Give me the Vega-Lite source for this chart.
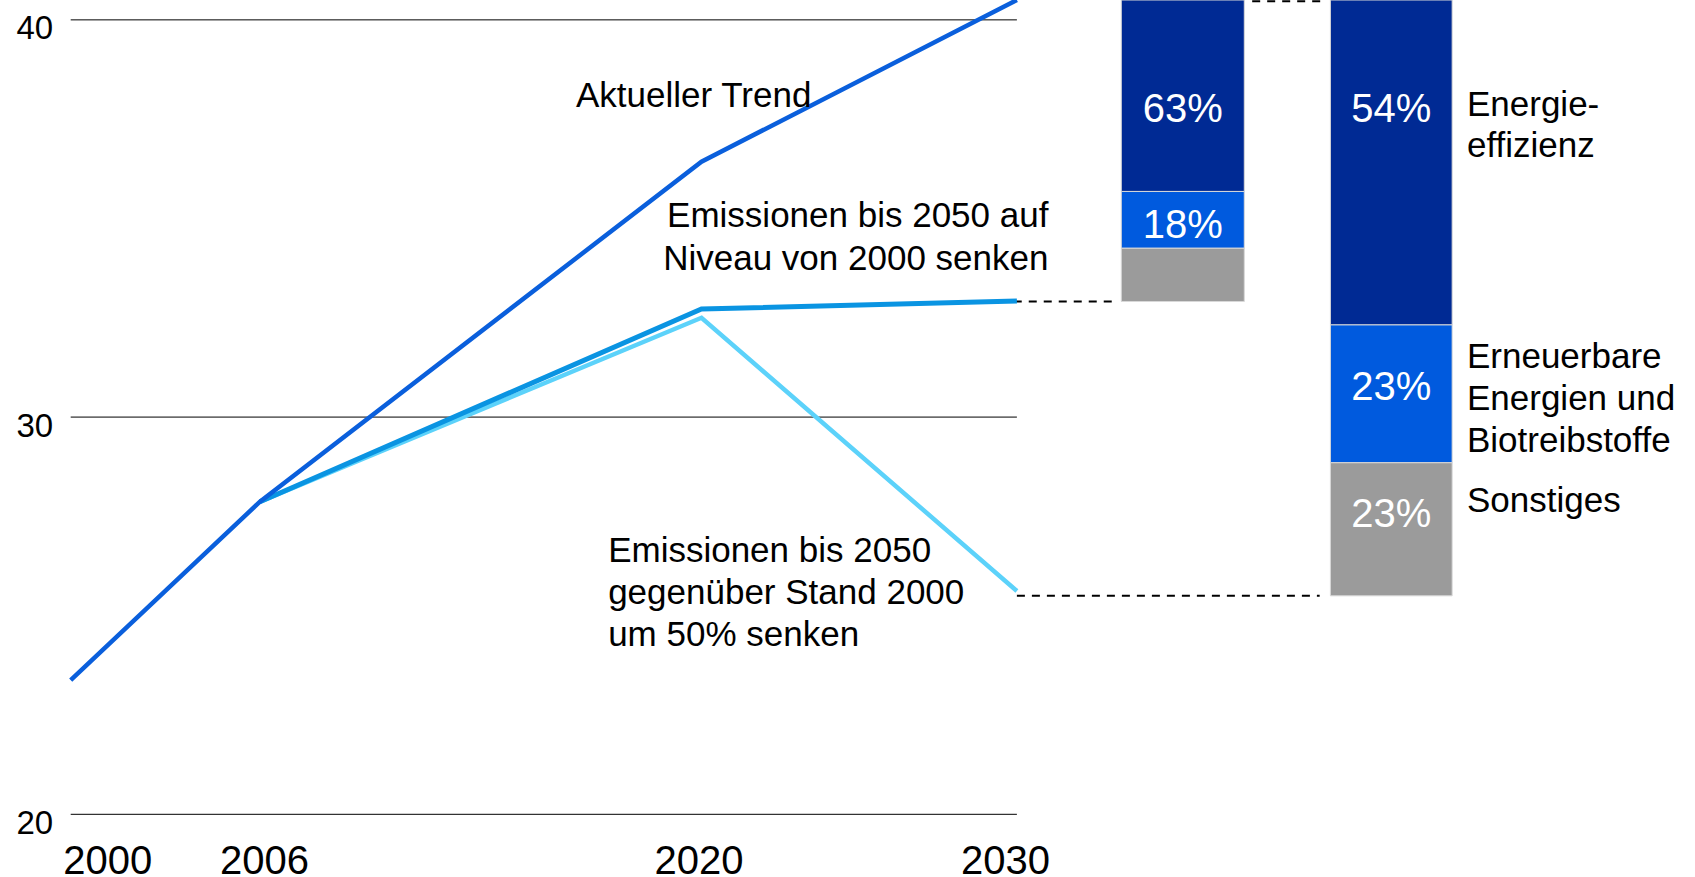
{
  "$schema": "https://vega.github.io/schema/vega-lite/v6.json",
  "width": 1624.3,
  "height": 814.3,
  "autosize": {"type": "none"},
  "padding": {"left": 70.7, "top": 0, "right": 0, "bottom": 62.7},
  "config": {
    "view": {"stroke": null},
    "font": "Liberation Sans",
    "text": {"font": "Liberation Sans"},
    "axisX": {
      "grid": false, "domain": false, "ticks": false, "tickSize": 0,
      "labelPadding": 59, "labelFontSize": 40, "labelColor": "#000000", "labelFont": "Liberation Sans",
      "labelBaseline": "alphabetic", "labelFlush": false, "labelOverlap": false, "title": null
    },
    "axisY": {
      "grid": false, "domain": false, "ticks": false, "tickSize": 0,
      "labelPadding": 18, "labelFontSize": 33, "labelColor": "#000000", "labelFont": "Liberation Sans",
      "labelBaseline": "alphabetic", "labelOverlap": false, "title": null
    }
  },
  "datasets": {
    "grid": [{"v": 20}, {"v": 30}, {"v": 40}],
    "lines": [
      {"series": "Aktueller Trend", "year": 2000, "v": 23.38},
      {"series": "Aktueller Trend", "year": 2006, "v": 27.87},
      {"series": "Aktueller Trend", "year": 2020, "v": 36.43},
      {"series": "Aktueller Trend", "year": 2030, "v": 40.5},
      {"series": "Niveau 2000", "year": 2006, "v": 27.87},
      {"series": "Niveau 2000", "year": 2020, "v": 32.72},
      {"series": "Niveau 2000", "year": 2030, "v": 32.92},
      {"series": "Minus 50%", "year": 2006, "v": 27.87},
      {"series": "Minus 50%", "year": 2020, "v": 32.5},
      {"series": "Minus 50%", "year": 2030, "v": 25.62}
    ],
    "bars": [
      {"bar": "A", "part": "Energieeffizienz", "start": 2033.31, "end": 2037.21, "lo": 35.68, "hi": 40.5},
      {"bar": "A", "part": "Erneuerbare", "start": 2033.31, "end": 2037.21, "lo": 34.25, "hi": 35.68},
      {"bar": "A", "part": "Sonstiges", "start": 2033.31, "end": 2037.21, "lo": 32.91, "hi": 34.25},
      {"bar": "B", "part": "Energieeffizienz", "start": 2039.94, "end": 2043.8, "lo": 32.32, "hi": 40.5},
      {"bar": "B", "part": "Erneuerbare", "start": 2039.94, "end": 2043.8, "lo": 28.85, "hi": 32.32},
      {"bar": "B", "part": "Sonstiges", "start": 2039.94, "end": 2043.8, "lo": 25.5, "hi": 28.85}
    ],
    "connectors": [
      {"from": 2029.9, "to": 2033.05, "level": 32.91},
      {"from": 2030.0, "to": 2039.6, "level": 25.5},
      {"from": 2037.46, "to": 2039.68, "level": 40.47}
    ],
    "pct": [
      {"x": 2035.26, "y": 37.44, "t": "63%"},
      {"x": 2041.87, "y": 37.44, "t": "54%"},
      {"x": 2035.26, "y": 34.51, "t": "18%"},
      {"x": 2041.87, "y": 30.43, "t": "23%"},
      {"x": 2041.87, "y": 27.23, "t": "23%"}
    ],
    "notesLeft": [
      {"x": 2016.02, "y": 37.81, "t": "Aktueller Trend"},
      {"x": 2017.04, "y": 26.36, "t": "Emissionen bis 2050"},
      {"x": 2017.04, "y": 25.29, "t": "gegenüber Stand 2000"},
      {"x": 2017.04, "y": 24.24, "t": "um 50% senken"},
      {"x": 2044.27, "y": 37.58, "t": "Energie-"},
      {"x": 2044.27, "y": 36.55, "t": "effizienz"},
      {"x": 2044.27, "y": 31.23, "t": "Erneuerbare"},
      {"x": 2044.27, "y": 30.18, "t": "Energien und"},
      {"x": 2044.27, "y": 29.13, "t": "Biotreibstoffe"},
      {"x": 2044.27, "y": 27.62, "t": "Sonstiges"}
    ],
    "notesRight": [
      {"x": 2031.0, "y": 34.79, "t": "Emissionen bis 2050 auf"},
      {"x": 2031.0, "y": 33.70, "t": "Niveau von 2000 senken"}
    ]
  },
  "encoding": {
    "x": {
      "type": "quantitative", "scale": {"domain": [2000, 2051.5]},
      "axis": {
        "values": [2000, 2006, 2020, 2030], "format": "d", "title": null,
        "labelAlign": {"condition": {"test": "datum.value == 2000", "value": "left"}, "value": "center"},
        "labelOffset": {"condition": [
          {"test": "datum.value == 2000", "value": -8},
          {"test": "datum.value == 2006", "value": 4},
          {"test": "datum.value == 2020", "value": -3},
          {"test": "datum.value == 2030", "value": -12}
        ], "value": 0}
      }
    },
    "y": {
      "type": "quantitative", "scale": {"domain": [20, 40.5]},
      "axis": {"values": [20, 30, 40], "title": null, "labelOffset": 19}
    }
  },
  "layer": [
    {
      "data": {"name": "grid"},
      "mark": {"type": "rule", "color": "#000000", "strokeWidth": 1},
      "encoding": {
        "x": {"datum": 2000, "type": "quantitative"},
        "x2": {"datum": 2030},
        "y": {"field": "v", "type": "quantitative"}
      }
    },
    {
      "data": {"name": "bars"},
      "mark": {"type": "rect", "stroke": "#d8d8d8", "strokeWidth": 1},
      "encoding": {
        "x": {"field": "start", "type": "quantitative"},
        "x2": {"field": "end"},
        "y": {"field": "lo", "type": "quantitative"},
        "y2": {"field": "hi"},
        "fill": {
          "field": "part", "type": "nominal",
          "scale": {"domain": ["Energieeffizienz", "Erneuerbare", "Sonstiges"], "range": ["#002A94", "#005ADE", "#9B9B9B"]},
          "legend": null
        }
      }
    },
    {
      "data": {"name": "connectors"},
      "mark": {"type": "rule", "color": "#000000", "strokeWidth": 2, "strokeDash": [8, 7]},
      "encoding": {
        "x": {"field": "from", "type": "quantitative"},
        "x2": {"field": "to"},
        "y": {"field": "level", "type": "quantitative"}
      }
    },
    {
      "data": {"name": "lines"},
      "transform": [{"filter": "datum.series == 'Minus 50%'"}],
      "mark": {"type": "line", "color": "#5CD2FA", "strokeWidth": 4.5},
      "encoding": {
        "x": {"field": "year", "type": "quantitative"},
        "y": {"field": "v", "type": "quantitative"}
      }
    },
    {
      "data": {"name": "lines"},
      "transform": [{"filter": "datum.series == 'Niveau 2000'"}],
      "mark": {"type": "line", "color": "#0A94E2", "strokeWidth": 5},
      "encoding": {
        "x": {"field": "year", "type": "quantitative"},
        "y": {"field": "v", "type": "quantitative"}
      }
    },
    {
      "data": {"name": "lines"},
      "transform": [{"filter": "datum.series == 'Aktueller Trend'"}],
      "mark": {"type": "line", "color": "#0A5FDC", "strokeWidth": 4.5},
      "encoding": {
        "x": {"field": "year", "type": "quantitative"},
        "y": {"field": "v", "type": "quantitative"}
      }
    },
    {
      "data": {"name": "pct"},
      "mark": {"type": "text", "fontSize": 40, "color": "#FFFFFF", "align": "center", "baseline": "alphabetic", "font": "Liberation Sans"},
      "encoding": {
        "x": {"field": "x", "type": "quantitative"},
        "y": {"field": "y", "type": "quantitative"},
        "text": {"field": "t"}
      }
    },
    {
      "data": {"name": "notesLeft"},
      "mark": {"type": "text", "fontSize": 35, "color": "#000000", "align": "left", "baseline": "alphabetic", "font": "Liberation Sans"},
      "encoding": {
        "x": {"field": "x", "type": "quantitative"},
        "y": {"field": "y", "type": "quantitative"},
        "text": {"field": "t"}
      }
    },
    {
      "data": {"name": "notesRight"},
      "mark": {"type": "text", "fontSize": 35, "color": "#000000", "align": "right", "baseline": "alphabetic", "font": "Liberation Sans"},
      "encoding": {
        "x": {"field": "x", "type": "quantitative"},
        "y": {"field": "y", "type": "quantitative"},
        "text": {"field": "t"}
      }
    }
  ]
}
